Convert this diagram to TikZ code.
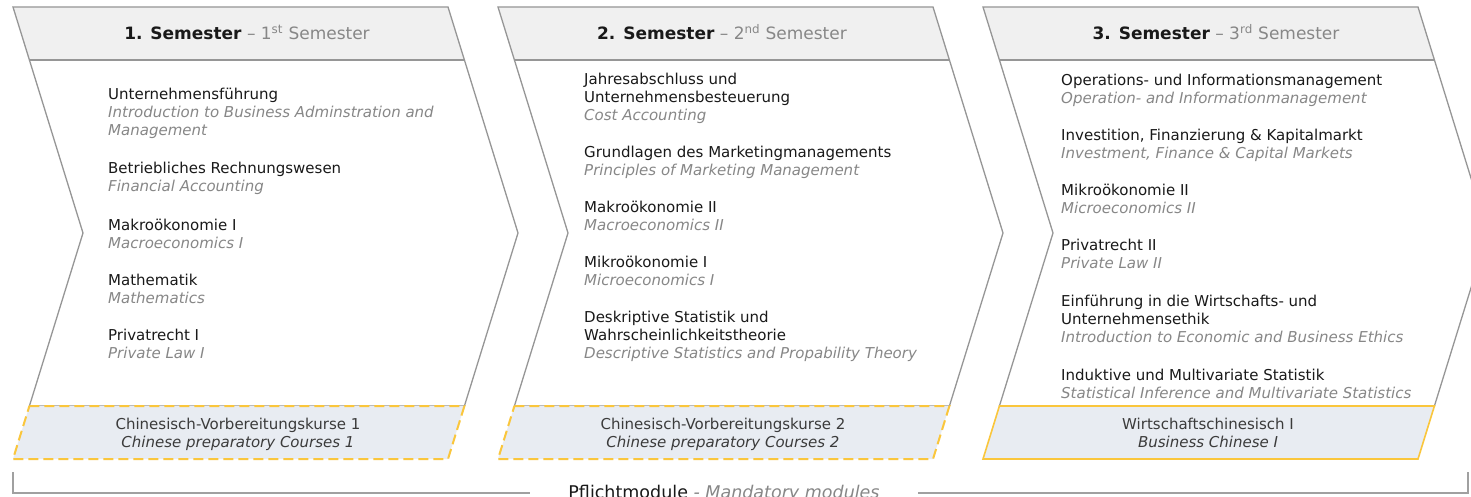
\documentclass[tikz,border=0pt]{standalone}
\usepackage{fontspec}
\setmainfont{DejaVu Sans}
\definecolor{outl}{RGB}{150,150,150}
\definecolor{hdr}{RGB}{240,240,240}
\definecolor{boxfill}{RGB}{232,236,242}
\definecolor{gold}{RGB}{250,198,60}
\definecolor{engl}{RGB}{135,135,135}
\definecolor{deu}{RGB}{25,25,25}
\newcommand\eng{\color{engl}\itshape}
\newcommand\sst{\rule{0pt}{14pt}}
\newcommand\chevshape[2]{%
 \begin{scope}[xshift=#1]
  \fill[white] (0,7) -- (435,7) -- (505,233) -- (451.4,406) -- (16.4,406) -- (70,233) -- cycle;
  \fill[hdr] (0,7) -- (435,7) -- (451.4,60) -- (16.4,60) -- cycle;
  \draw[chevline] (0,7) -- (435,7) -- (505,233) -- (451.4,406) -- (16.4,406) -- (70,233) -- cycle;
  \draw[chevline] (16.4,60) -- (451.4,60);
  \filldraw[#2] (16.4,406) -- (451.4,406) -- (435,459) -- (0,459) -- cycle;
 \end{scope}}
\begin{document}
\begin{tikzpicture}[x=1pt,y=-1pt,
  chevline/.style={draw=outl,line width=1.3pt,line join=miter},
  dashbox/.style={fill=boxfill,draw=gold,line width=2pt,dash pattern=on 10pt off 5pt},
  solidbox/.style={fill=boxfill,draw=gold,line width=1.6pt},
  itm/.style={anchor=north west,inner sep=0pt,align=left,font=\fontsize{15}{18}\selectfont,text=deu},
  hdrtxt/.style={anchor=base,inner sep=0pt,font=\fontsize{17}{20}\selectfont,text=deu},
  boxtxt/.style={anchor=north,inner sep=0pt,align=center,font=\fontsize{15}{18}\selectfont,text=deu!85!white},
  bracket/.style={draw=outl!90!white,line width=1.3pt}]
\useasboundingbox (0,0) rectangle (1471,497);
\fill[white] (0,0) rectangle (1471,497);
\chevshape{13pt}{dashbox}
\chevshape{498pt}{dashbox}
\chevshape{983pt}{solidbox}
% headers
\node[hdrtxt] (h1) at (247,40) {\textbf{1. Semester} {\color{engl}– 1\textsuperscript{st} Semester}};
\node[hdrtxt] (h2) at (722,40) {\textbf{2. Semester} {\color{engl}– 2\textsuperscript{nd} Semester}};
\node[hdrtxt] (h3) at (1216,40) {\textbf{3. Semester} {\color{engl}– 3\textsuperscript{rd} Semester}};
% semester 1
\node[itm] (a1) at (108,85) {\sst Unternehmensführung\\{\eng Introduction to Business Adminstration and}\\{\eng Management}};
\node[itm] (a2) at (108,159) {\sst Betriebliches Rechnungswesen\\{\eng Financial Accounting}};
\node[itm] (a3) at (108,216) {\sst Makroökonomie I\\{\eng Macroeconomics I}};
\node[itm] (a4) at (108,271) {\sst Mathematik\\{\eng Mathematics}};
\node[itm] (a5) at (108,326) {\sst Privatrecht I\\{\eng Private Law I}};
% semester 2
\node[itm] (b1) at (584,70) {\sst Jahresabschluss und\\Unternehmensbesteuerung\\{\eng Cost Accounting}};
\node[itm] (b2) at (584,143) {\sst Grundlagen des Marketingmanagements\\{\eng Principles of Marketing Management}};
\node[itm] (b3) at (584,198) {\sst Makroökonomie II\\{\eng Macroeconomics II}};
\node[itm] (b4) at (584,253) {\sst Mikroökonomie I\\{\eng Microeconomics I}};
\node[itm] (b5) at (584,308) {\sst Deskriptive Statistik und\\Wahrscheinlichkeitstheorie\\{\eng Descriptive Statistics and Propability Theory}};
% semester 3
\node[itm] (c1) at (1061,71) {\sst Operations- und Informationsmanagement\\{\eng Operation- and Informationmanagement}};
\node[itm] (c2) at (1061,126) {\sst Investition, Finanzierung \& Kapitalmarkt\\{\eng Investment, Finance \& Capital Markets}};
\node[itm] (c3) at (1061,181) {\sst Mikroökonomie II\\{\eng Microeconomics II}};
\node[itm] (c4) at (1061,236) {\sst Privatrecht II\\{\eng Private Law II}};
\node[itm] (c5) at (1061,292) {\sst Einführung in die Wirtschafts- und\\Unternehmensethik\\{\eng Introduction to Economic and Business Ethics}};
\node[itm] (c6) at (1061,366) {\sst Induktive und Multivariate Statistik\\{\eng Statistical Inference and Multivariate Statistics}};
% boxes
\node[boxtxt] (k1) at (238,415) {\sst Chinesisch-Vorbereitungskurse 1\\{\itshape Chinese preparatory Courses 1}};
\node[boxtxt] (k2) at (723,415) {\sst Chinesisch-Vorbereitungskurse 2\\{\itshape Chinese preparatory Courses 2}};
\node[boxtxt] (k3) at (1208,415) {\sst Wirtschaftschinesisch I\\{\itshape Business Chinese I}};
% bottom bracket
\node[anchor=base,inner sep=0pt,font=\fontsize{17.5}{20}\selectfont,text=deu] (pm) at (724,498) {Pflichtmodule {\eng - Mandatory modules}};
\coordinate (bl) at (13,472);
\coordinate (br) at (1468,472);
\coordinate (bll) at (530,493);
\coordinate (brr) at (918,493);
\draw[bracket] (bl) |- (bll);
\draw[bracket] (br) |- (brr);
\end{tikzpicture}
\end{document}
